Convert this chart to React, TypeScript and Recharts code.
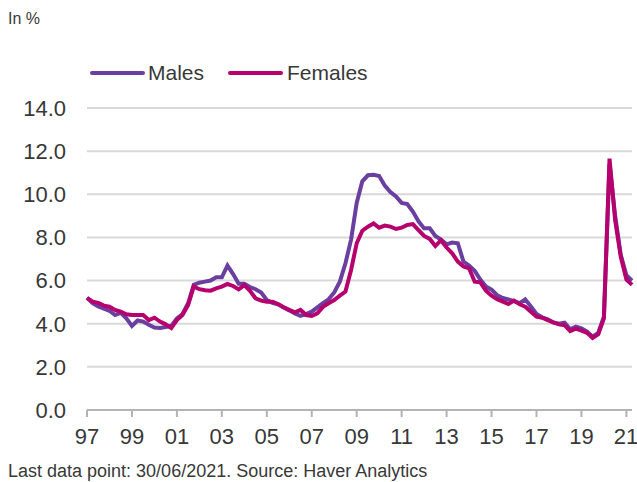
import React from 'react';
import { LineChart, Line, XAxis, YAxis, CartesianGrid } from 'recharts';

// quarterly, 1997Q1 .. 2021Q2
const startYear = 1997;

const males = [
  5.2, 4.95, 4.8, 4.7, 4.6, 4.4, 4.5, 4.25, 3.9, 4.15, 4.1, 3.95, 3.82, 3.8, 3.85, 3.9,
  4.25, 4.45, 4.95, 5.8, 5.9, 5.95, 6.0, 6.15, 6.15, 6.7, 6.3, 5.85, 5.85, 5.7, 5.6, 5.45,
  5.1, 4.97, 4.9, 4.75, 4.62, 4.48, 4.36, 4.45, 4.56, 4.76, 4.95, 5.13, 5.45, 5.95, 6.8, 7.9,
  9.6, 10.6, 10.88, 10.9, 10.85, 10.4, 10.1, 9.9, 9.6, 9.55, 9.2, 8.75, 8.42, 8.42, 8.07, 7.9,
  7.68, 7.76, 7.73, 6.88, 6.7, 6.45, 6.05, 5.72, 5.58, 5.32, 5.19, 5.12, 5.05, 4.95, 5.13, 4.8,
  4.45, 4.3, 4.2, 4.06, 4.0, 4.05, 3.74, 3.86, 3.79, 3.63, 3.4, 3.58, 4.33, 11.4, 9.0, 7.2,
  6.25, 6.0,
];

const females = [
  5.2, 5.02, 4.97, 4.84, 4.79, 4.64, 4.56, 4.44, 4.4, 4.4, 4.4, 4.17, 4.28, 4.1, 3.97, 3.8,
  4.17, 4.4, 4.87, 5.72, 5.6, 5.55, 5.53, 5.64, 5.72, 5.84, 5.75, 5.59, 5.79, 5.53, 5.18, 5.07,
  5.02, 5.02, 4.91, 4.76, 4.64, 4.53, 4.64, 4.4, 4.36, 4.48, 4.78, 4.95, 5.1, 5.3, 5.49, 6.49,
  7.73, 8.31, 8.5, 8.65, 8.45, 8.55, 8.5, 8.39, 8.45, 8.58, 8.62, 8.34, 8.07, 7.93, 7.6, 7.87,
  7.53, 7.26, 6.88, 6.65, 6.57, 5.95, 5.92, 5.53, 5.3, 5.13, 5.02, 4.91, 5.07, 4.9, 4.79, 4.56,
  4.33, 4.28, 4.17, 4.06, 3.97, 3.93, 3.66, 3.77, 3.68, 3.58, 3.34, 3.51, 4.25, 11.65, 8.8, 7.1,
  6.05, 5.8,
];

const yearTicks = [1997, 1999, 2001, 2003, 2005, 2007, 2009, 2011, 2013, 2015, 2017, 2019, 2021];
const valueTicks = [0, 2, 4, 6, 8, 10, 12, 14];

const data = males.map((m, i) => ({ t: startYear + i / 4, males: m, females: females[i] }));

const MALE = '#6a3fa0';
const FEMALE = '#b5006e';
const FONT = '"Liberation Sans", Arial, sans-serif';
const TEXT = '#383838';

const LegendBox = () => (
  <div style={{ position: 'absolute', left: 90, top: 60, display: 'flex', alignItems: 'center', fontFamily: FONT, fontSize: 21, color: TEXT, lineHeight: '26px' }}>
    <span style={{ width: 55, height: 4, background: MALE, borderRadius: 2, marginRight: 3 }} />
    <span style={{ marginRight: 24 }}>Males</span>
    <span style={{ width: 55, height: 4, background: FEMALE, borderRadius: 2, marginRight: 4 }} />
    <span>Females</span>
  </div>
);

export default function App() {
  return (
    <div style={{ position: 'absolute', left: 0, top: 0, width: 637, height: 482, background: '#fff' }}>
      <div style={{ position: 'absolute', left: 8, top: 10, fontFamily: FONT, fontSize: 16, color: TEXT }}>In %</div>
      <LineChart width={637} height={482} data={data} margin={{ top: 108, right: 5, left: 27, bottom: 42 }}>
        <CartesianGrid vertical={false} stroke="#d9d9d9" strokeWidth={2} />
        <XAxis
          dataKey="t"
          type="number"
          domain={[1997, 2021.25]}
          ticks={yearTicks}
          tickFormatter={(v: number) => String(v % 100).padStart(2, '0')}
          stroke="#b3b3b3"
          strokeWidth={2}
          tickSize={7}
          tickMargin={11}
          height={30}
          tick={{ fill: TEXT, fontSize: 22, fontFamily: FONT }}
        />
        <YAxis
          domain={[0, 14]}
          ticks={valueTicks}
          tickFormatter={(v: number) => v.toFixed(1)}
          axisLine={false}
          tickLine={false}
          width={60}
          tickMargin={15}
          tick={{ fill: TEXT, fontSize: 22, fontFamily: FONT }}
        />
        <Line dataKey="males" stroke={MALE} strokeWidth={4} dot={false} isAnimationActive={false} />
        <Line dataKey="females" stroke={FEMALE} strokeWidth={4} dot={false} isAnimationActive={false} />
      </LineChart>
      <LegendBox />
      <div style={{ position: 'absolute', left: 8, top: 461, fontFamily: FONT, fontSize: 18, color: TEXT, whiteSpace: 'nowrap' }}>
        Last data point: 30/06/2021. Source: Haver Analytics
      </div>
    </div>
  );
}
